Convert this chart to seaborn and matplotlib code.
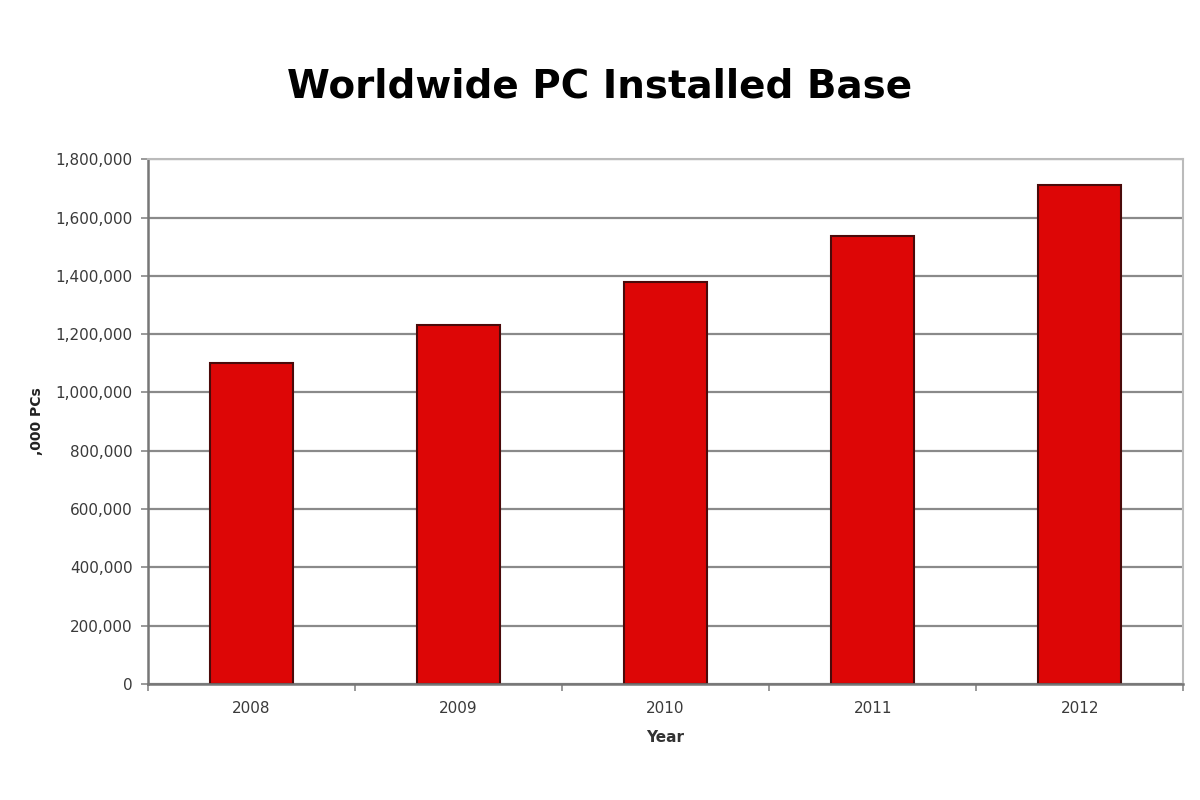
import numpy as np
import pandas as pd
import matplotlib
matplotlib.use('Agg')
import matplotlib.pyplot as plt
import seaborn as sns
from matplotlib.ticker import FuncFormatter, FixedLocator

# Values (thousands of PCs)
years = ['2008', '2009', '2010', '2011', '2012']
installed_base = [1100000, 1230000, 1378000, 1535000, 1710000]
y_ticks = [0, 200000, 400000, 600000, 800000, 1000000, 1200000, 1400000, 1600000, 1800000]

df = pd.DataFrame({'Year': years, 'PCs': installed_base})

sns.set_style('white')
plt.rcParams['font.family'] = ['DejaVu Sans']

fig = plt.figure(figsize=(12, 8), dpi=100)
ax = fig.add_axes([0.1233, 0.145, 0.8627, 0.656])

sns.barplot(data=df, x='Year', y='PCs', ax=ax, color='#dd0606',
            edgecolor='#4a0a0a', linewidth=1.5, width=0.4, saturation=1)

ax.set_ylim(0, 1800000)
ax.set_xlim(-0.5, 4.5)
ax.set_yticks(y_ticks)
ax.yaxis.set_major_formatter(FuncFormatter(lambda v, p: f'{int(v):,}'))
ax.yaxis.grid(True, color='#8a8a8a', linewidth=1.6)
ax.set_axisbelow(True)

# x ticks: labels at category centres, marks at boundaries
ax.tick_params(axis='x', which='major', length=0, pad=12, labelsize=11, colors='#3a3a3a')
ax.xaxis.set_minor_locator(FixedLocator([-0.5, 0.5, 1.5, 2.5, 3.5, 4.5]))
ax.tick_params(axis='x', which='minor', length=5, width=1.2, color='#888888', bottom=True)
ax.tick_params(axis='y', length=5, width=1.2, color='#888888', labelsize=11,
               labelcolor='#3a3a3a', left=True, pad=6)

for side in ['left', 'bottom']:
    ax.spines[side].set_color('#777777')
    ax.spines[side].set_linewidth(1.8)
for side in ['top', 'right']:
    ax.spines[side].set_color('#bbbbbb')
    ax.spines[side].set_linewidth(1.5)

ax.set_xlabel('Year', weight='bold', fontsize=11, color='#333333', labelpad=10)
ax.set_ylabel(',000 PCs', weight='bold', fontsize=10, color='#222222', labelpad=8)

fig.suptitle('Worldwide PC Installed Base', weight='bold', fontsize=28,
             color='black', x=0.5, y=0.892, va='center')

plt.savefig('out.png', dpi=100)
